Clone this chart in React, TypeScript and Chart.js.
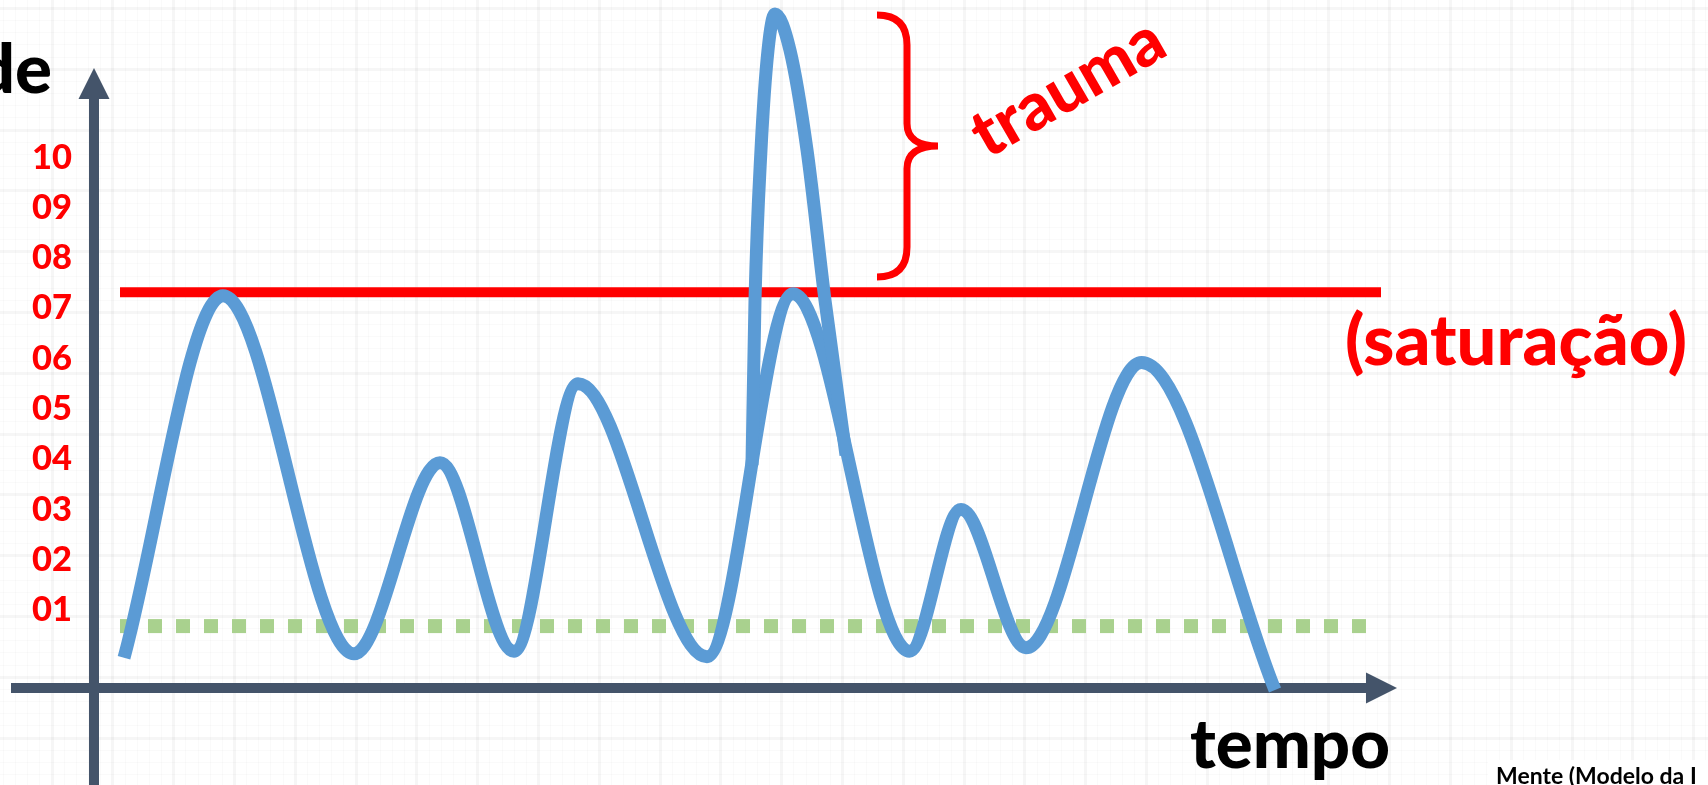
import React, { useEffect, useRef } from 'react';
import { Chart, registerables } from 'chart.js';

Chart.register(...registerables);

const FONT = 'Lato, "Open Sans", sans-serif';

// Scales: intensity (0–10 scale) and arbitrary time units
const yTickValues = [1, 2, 3, 4, 5, 6, 7, 8, 9, 10];
const yMin = -2.48;
const yMax = 13.13;
const xMin = -0.28;
const xMax = 32.28;

// Main intensity curve
const curveTime = [0.6, 2.58, 5.2, 6.92, 8.4, 9.68, 12.26, 13.98, 16.31, 17.34, 18.64, 20.95, 23.62];
const curveIntensity = [0.05, 7.25, 0.13, 3.93, 0.18, 5.5, 0.07, 7.29, 0.18, 3.0, 0.25, 5.92, -0.59];

// Trauma spike
const traumaTime = [13.16, 13.22, 13.34, 13.48, 13.62, 13.92, 14.26, 14.62, 15.04];
const traumaIntensity = [3.88, 7.16, 10.15, 12.13, 12.85, 12.13, 10.15, 7.16, 4.08];

// Reference lines
const saturationLevel = 7.32;
const saturationSpan = [0.52, 25.74];
const restLevel = 0.68;
const restSpan = [0.52, 25.52];

// Axes (drawn with arrows)
const xAxisLevel = -0.55;
const xAxisSpan = [-1.66, 26.06];
const yAxisTime = 0;
const yAxisSpan = [-2.48, 11.78];

// Brace around trauma excess
const braceTime = 16.26;
const braceSpan = [12.83, 7.62];

// Texts
const yTitle = 'Intensidade';
const xTitle = 'tempo';
const saturationLabel = '(saturação)';
const traumaLabel = 'trauma';
const sourceLabel = 'Mente (Modelo da I';

function fitSize(text: string, target: number, weight = 'bold'): number {
  const c = document.createElement('canvas').getContext('2d')!;
  c.font = `${weight} 100px ${FONT}`;
  const w = c.measureText(text).width || 1;
  return (100 * target) / w;
}

export default function App() {
  const ref = useRef<HTMLCanvasElement | null>(null);

  useEffect(() => {
    if (!ref.current) return;
    const tickSize = fitSize('10', 40, '900');
    const titleSize = fitSize(xTitle, 200, '900');
    const satSize = fitSize(saturationLabel, 342, '900');
    const traumaSize = fitSize(traumaLabel, 211, '900');

    const decor = {
      id: 'decor',
      beforeDraw(chart: any) {
        const { ctx, width, height } = chart;
        ctx.save();
        ctx.fillStyle = '#ffffff';
        ctx.fillRect(0, 0, width, height);
        const minor = 12.16;
        const off = 51.6;
        for (let i = -5; off + i * minor < width; i++) {
          const px = Math.round(off + i * minor);
          const major = ((i % 5) + 5) % 5 === 0;
          ctx.fillStyle = major ? 'rgba(0,0,0,0.035)' : 'rgba(0,0,0,0.018)';
          ctx.fillRect(px - (major ? 1 : 0), 0, major ? 3 : 1, height);
        }
        for (let i = 0; i * minor < height; i++) {
          const py = Math.round(i * minor + 8);
          const major = i % 5 === 0;
          ctx.fillStyle = major ? 'rgba(0,0,0,0.035)' : 'rgba(0,0,0,0.018)';
          ctx.fillRect(0, py - (major ? 1 : 0), width, major ? 3 : 1);
        }
        ctx.restore();
      },
      beforeDatasetsDraw(chart: any) {
        const { ctx } = chart;
        const x = chart.scales.x;
        const y = chart.scales.y;
        const head = 31;
        const half = 15.5;
        ctx.save();
        ctx.strokeStyle = '#44546A';
        ctx.fillStyle = '#44546A';
        ctx.lineWidth = 10;
        // y axis
        const ax = x.getPixelForValue(yAxisTime);
        const yb = y.getPixelForValue(yAxisSpan[0]);
        const yt = y.getPixelForValue(yAxisSpan[1]);
        ctx.beginPath();
        ctx.moveTo(ax, yb);
        ctx.lineTo(ax, yt + head);
        ctx.stroke();
        ctx.beginPath();
        ctx.moveTo(ax, yt);
        ctx.lineTo(ax - half, yt + head);
        ctx.lineTo(ax + half, yt + head);
        ctx.closePath();
        ctx.fill();
        // x axis
        const ay = y.getPixelForValue(xAxisLevel);
        const xl = x.getPixelForValue(xAxisSpan[0]);
        const xt = x.getPixelForValue(xAxisSpan[1]);
        ctx.beginPath();
        ctx.moveTo(xl, ay);
        ctx.lineTo(xt - head, ay);
        ctx.stroke();
        ctx.beginPath();
        ctx.moveTo(xt, ay);
        ctx.lineTo(xt - head, ay - half);
        ctx.lineTo(xt - head, ay + half);
        ctx.closePath();
        ctx.fill();
        ctx.restore();
      },
      afterDraw(chart: any) {
        const { ctx } = chart;
        const x = chart.scales.x;
        const y = chart.scales.y;
        ctx.save();
        // brace
        const bx = x.getPixelForValue(braceTime);
        const bt = y.getPixelForValue(braceSpan[0]);
        const bb = y.getPixelForValue(braceSpan[1]);
        const bm = (bt + bb) / 2;
        const r = 30;
        ctx.strokeStyle = '#FF0000';
        ctx.lineWidth = 7;
        ctx.lineCap = 'butt';
        ctx.beginPath();
        ctx.moveTo(bx - r, bt);
        ctx.bezierCurveTo(bx - 10, bt, bx, bt + 10, bx, bt + r);
        ctx.lineTo(bx, bm - r * 0.75);
        ctx.bezierCurveTo(bx, bm - 8, bx + 10, bm, bx + 31, bm);
        ctx.bezierCurveTo(bx + 10, bm, bx, bm + 8, bx, bm + r * 0.75);
        ctx.lineTo(bx, bb - r);
        ctx.bezierCurveTo(bx, bb - 10, bx - 10, bb, bx - r, bb);
        ctx.stroke();

        // trauma label
        ctx.fillStyle = '#FF0000';
        ctx.font = `900 ${traumaSize}px ${FONT}`;
        ctx.textAlign = 'center';
        ctx.textBaseline = 'middle';
        ctx.save();
        ctx.translate(x.getPixelForValue(19.48), y.getPixelForValue(11.38));
        ctx.rotate((-30 * Math.PI) / 180);
        ctx.fillText(traumaLabel, 0, 0);
        ctx.restore();

        // saturation label
        ctx.textBaseline = 'alphabetic';
        ctx.textAlign = 'left';
        ctx.font = `900 ${satSize}px ${FONT}`;
        ctx.fillText(saturationLabel, x.getPixelForValue(25.02), y.getPixelForValue(5.87));

        // axis titles
        ctx.fillStyle = '#000000';
        ctx.font = `900 ${titleSize}px ${FONT}`;
        ctx.fillText(xTitle, x.getPixelForValue(21.92), y.getPixelForValue(-2.14));
        ctx.textAlign = 'right';
        ctx.fillText(yTitle, x.getPixelForValue(-0.84), y.getPixelForValue(11.28));

        // source label box
        const sx = x.getPixelForValue(28.04);
        const sy = y.getPixelForValue(-2.46);
        ctx.fillStyle = '#ffffff';
        ctx.fillRect(sx - 8, sy - 24, chart.width - sx + 8, 32);
        ctx.fillStyle = '#000000';
        ctx.textAlign = 'left';
        ctx.font = `bold 23px ${FONT}`;
        ctx.fillText(sourceLabel, sx, sy);
        ctx.restore();
      },
    };

    const toPoints = (xs: number[], ys: number[]) => xs.map((t, i) => ({ x: t, y: ys[i] }));

    const chart = new Chart(ref.current, {
      type: 'line',
      data: {
        datasets: [
          {
            label: 'trauma',
            data: toPoints(traumaTime, traumaIntensity),
            borderColor: '#5B9BD5',
            borderWidth: 13,
            pointRadius: 0,
            cubicInterpolationMode: 'monotone',
            borderJoinStyle: 'round',
            borderCapStyle: 'butt',
            fill: false,
          },
          {
            label: 'intensidade',
            data: toPoints(curveTime, curveIntensity),
            borderColor: '#5B9BD5',
            borderWidth: 13,
            pointRadius: 0,
            cubicInterpolationMode: 'monotone',
            borderJoinStyle: 'round',
            borderCapStyle: 'butt',
            fill: false,
          },
          {
            label: 'saturação',
            data: toPoints(saturationSpan, [saturationLevel, saturationLevel]),
            borderColor: '#FF0000',
            borderWidth: 10,
            pointRadius: 0,
            fill: false,
          },
          {
            label: 'repouso',
            data: toPoints(restSpan, [restLevel, restLevel]),
            borderColor: '#A9D18E',
            borderWidth: 14,
            borderDash: [14, 14],
            borderCapStyle: 'butt',
            pointRadius: 0,
            fill: false,
          },
        ],
      } as any,
      options: {
        responsive: false,
        animation: false,
        events: [],
        layout: { padding: 0 },
        plugins: { legend: { display: false }, tooltip: { enabled: false } },
        scales: {
          x: { type: 'linear', min: xMin, max: xMax, display: false },
          y: {
            type: 'linear',
            min: yMin,
            max: yMax,
            position: 'left',
            grid: { display: false, drawTicks: false, tickLength: 0 },
            border: { display: false },
            afterBuildTicks: (s: any) => {
              s.ticks = yTickValues.map((v) => ({ value: v }));
            },
            afterFit: (s: any) => {
              s.width = 80;
              s.paddingTop = 0;
              s.paddingBottom = 0;
            },
            ticks: {
              autoSkip: false,
              padding: 8,
              color: '#FF0000',
              font: { family: FONT, size: tickSize, weight: '900' },
              callback: (v: any) => String(v).padStart(2, '0'),
            },
          },
        },
      } as any,
      plugins: [decor],
    });
    return () => chart.destroy();
  }, []);

  return (
    <canvas
      ref={ref}
      width={1708}
      height={785}
      style={{ position: 'absolute', left: 0, top: 0, width: 1708, height: 785 }}
    />
  );
}
